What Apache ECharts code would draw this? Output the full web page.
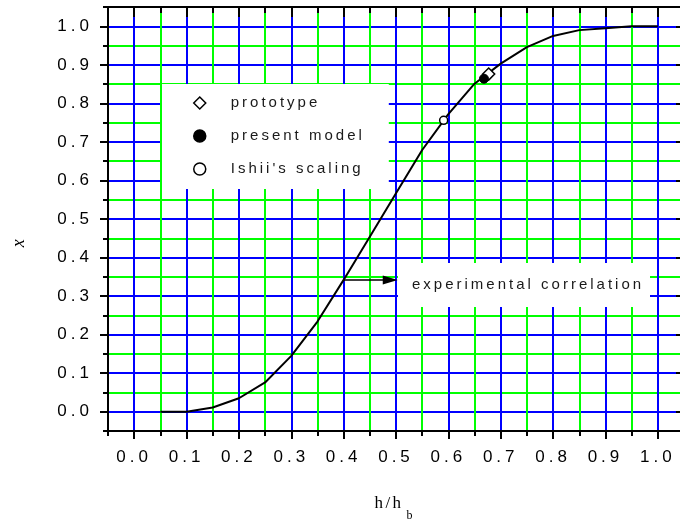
<!DOCTYPE html>
<html>
<head>
<meta charset="utf-8">
<script src="https://cdn.jsdelivr.net/npm/echarts@6/dist/echarts.min.js"></script>
<style>
html,body{margin:0;padding:0;background:#fff;}
#chart{width:680px;height:521px;}
</style>
</head>
<body>
<div id="chart"></div>
<script>
// ---- data ----
const hRatio = [0.05,0.10,0.15,0.20,0.25,0.30,0.35,0.40,0.45,0.50,0.55,0.60,0.65,0.70,0.75,0.80,0.85,0.90,0.95,1.00];
const correlation = [0.000,0.000,0.011,0.035,0.076,0.145,0.234,0.342,0.454,0.567,0.679,0.772,0.851,0.903,0.946,0.975,0.990,0.995,1.000,1.000];
const prototypePoint = [0.677, 0.876];
const presentModelPoint = [0.668, 0.864];
const ishiiPoint = [0.591, 0.756];
const arrowFrom = [0.400, 0.342];
const arrowTo = [0.489, 0.342];
const majorTicks = [0.0,0.1,0.2,0.3,0.4,0.5,0.6,0.7,0.8,0.9,1.0];
const legendNames = ['prototype', 'present model', "Ishii's scaling"];
const annotationText = 'experimental correlation';
const xTitle = 'h/h';
const xTitleSub = 'b';
const yTitle = 'x';
const axisMin = -0.05, axisMax = 1.05, axisStep = 0.05;

// wide tracking of the original lettering (drawing only; text stays text)
(function () {
  const P = CanvasRenderingContext2D.prototype;
  const orig = P.fillText;
  P.fillText = function (t, x, y, m) {
    if ('letterSpacing' in this) {
      const f = this.font || '';
      this.letterSpacing = /Serif/.test(f) ? '2.5px' : (/17px/.test(f) ? '4px' : '3px');
    }
    const r = m === undefined ? orig.call(this, t, x, y) : orig.call(this, t, x, y, m);
    if ('letterSpacing' in this) this.letterSpacing = '0px';
    return r;
  };
})();

// ---- chart ----
const chart = echarts.init(document.getElementById('chart'), null, {renderer: 'canvas'});
const BLUE = '#0000ff', GREEN = '#00ff00', BLACK = '#000000';
const labelFont = 'Liberation Sans';

function tickFmt(v) {
  const k = Math.round(v * 20);
  if (k % 2 !== 0 || k < 0 || k > 20) return '';
  return (k / 20).toFixed(1);
}

function axisBase(extra) {
  return Object.assign({
    type: 'value', min: axisMin, max: axisMax, interval: axisStep,
    axisLine: {show: false, onZero: false},
    axisTick: {show: false},
    axisLabel: {show: false},
    splitLine: {show: false}
  }, extra);
}

function mainAxis(pos, labelMargin, extra) {
  return axisBase(Object.assign({
    position: pos,
    axisLine: {show: true, onZero: false, lineStyle: {color: BLACK, width: 2}},
    axisTick: {show: true, inside: false, length: 5, lineStyle: {color: BLACK, width: 2}},
    axisLabel: {show: true, margin: labelMargin, fontSize: 17, fontFamily: labelFont, color: BLACK, formatter: tickFmt},
    splitLine: {show: true, showMinLine: false, showMaxLine: false, lineStyle: {color: [BLUE, GREEN], width: 2}}
  }, extra));
}
function longTickAxis(pos, inside, len) {
  return axisBase({
    position: pos,
    axisTick: {show: true, inside: inside, length: len, customValues: majorTicks, lineStyle: {color: BLACK, width: 2}}
  });
}
function shortTickAxis(pos, inside, len) {
  return axisBase({
    position: pos,
    axisLine: {show: true, onZero: false, lineStyle: {color: BLACK, width: 2}},
    axisTick: {show: true, inside: inside, length: len, lineStyle: {color: BLACK, width: 2}}
  });
}

const option = {
  animation: false,
  backgroundColor: '#ffffff',
  grid: {left: 108, top: 7, right: -4, height: 424, containLabel: false, outerBoundsMode: 'none'},
  xAxis: [
    mainAxis('bottom', 18, {
      name: '{m|' + xTitle + '}{s|' + xTitleSub + '}',
      nameLocation: 'middle', nameGap: 54,
      nameTextStyle: {
        rich: {
          m: {fontFamily: 'Liberation Serif', fontSize: 17, color: BLACK},
          s: {fontFamily: 'Liberation Serif', fontSize: 12, color: BLACK, padding: [25, 0, 0, 8]}
        }
      }
    }),
    longTickAxis('bottom', false, 8),
    shortTickAxis('top', true, 6),
    longTickAxis('top', true, 10)
  ],
  yAxis: [
    mainAxis('left', 15, {
      name: yTitle, nameLocation: 'middle', nameRotate: 90, nameGap: 80,
      nameTextStyle: {fontFamily: 'Liberation Serif', fontStyle: 'italic', fontSize: 18, color: BLACK, padding: [0, 46, 0, 0]}
    }),
    longTickAxis('left', false, 8),
    shortTickAxis('right', true, 4),
    longTickAxis('right', true, 8)
  ],
  legend: {
    data: legendNames,
    orient: 'vertical', left: 162, top: 84,
    padding: [11, 63, 12, 31],
    itemWidth: 12, itemHeight: 12, itemGap: 17,
    backgroundColor: '#ffffff',
    selectedMode: false,
    itemStyle: {borderColor: BLACK, borderWidth: 1.5, opacity: 1},
    textStyle: {fontSize: 15, fontFamily: labelFont, color: '#1a1a1a', lineHeight: 16, padding: [0, 0, 0, 20]}
  },
  graphic: [
    {type: 'rect', z: 1, shape: {x: 398, y: 263, width: 252, height: 44}, style: {fill: '#ffffff'}, silent: true},
    {type: 'text', z: 1, x: 412, y: 285, style: {text: annotationText, font: '15px "Liberation Sans"', fill: '#1a1a1a', verticalAlign: 'middle', align: 'left'}, silent: true}
  ],
  series: [
    {
      name: 'experimental correlation', type: 'line',
      xAxisIndex: 0, yAxisIndex: 0,
      data: hRatio.map((h, i) => [h, correlation[i]]),
      showSymbol: false, smooth: false,
      lineStyle: {color: BLACK, width: 2},
      itemStyle: {color: BLACK},
      z: 2,
      markLine: {
        silent: true, animation: false,
        symbol: ['none', 'triangle'],
        symbolSize: 12,
        lineStyle: {color: BLACK, width: 1.5, type: 'solid', opacity: 1},
        itemStyle: {color: BLACK},
        label: {show: false},
        data: [[
          {coord: arrowFrom, symbol: 'none'},
          {coord: arrowTo, symbol: 'triangle', symbolSize: [9, 15]}
        ]]
      }
    },
    {
      name: legendNames[0], type: 'scatter', xAxisIndex: 0, yAxisIndex: 0,
      data: [prototypePoint], symbol: 'diamond', symbolSize: 12, z: 3,
      itemStyle: {color: '#ffffff', borderColor: BLACK, borderWidth: 1.5, opacity: 1}
    },
    {
      name: legendNames[1], type: 'scatter', xAxisIndex: 0, yAxisIndex: 0,
      data: [presentModelPoint], symbol: 'circle', symbolSize: 9, z: 3,
      itemStyle: {color: BLACK, borderColor: BLACK, borderWidth: 1, opacity: 1}
    },
    {
      name: legendNames[2], type: 'scatter', xAxisIndex: 0, yAxisIndex: 0,
      data: [ishiiPoint], symbol: 'circle', symbolSize: 8, z: 3,
      itemStyle: {color: '#ffffff', borderColor: BLACK, borderWidth: 1.5, opacity: 1}
    }
  ]
};
chart.setOption(option);
</script>
</body>
</html>
